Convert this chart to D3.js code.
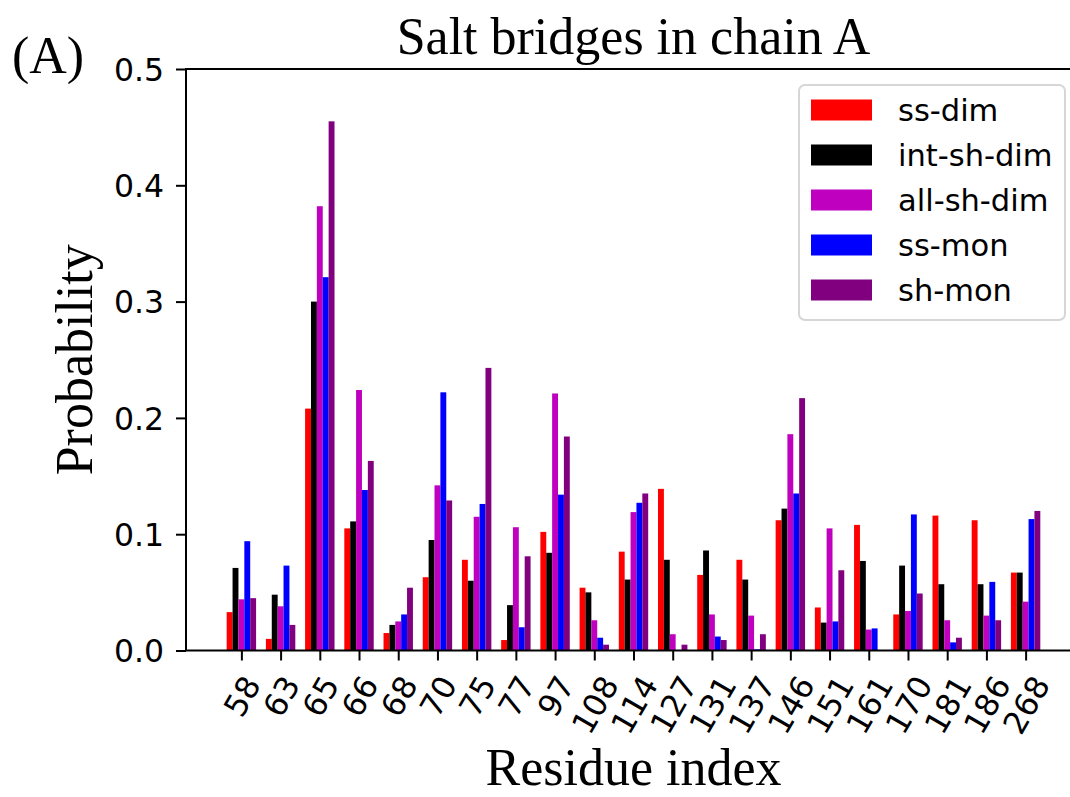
<!DOCTYPE html>
<html>
<head>
<meta charset="utf-8">
<script src="https://cdn.jsdelivr.net/npm/d3@7"></script>
<style>
  html, body { margin: 0; padding: 0; background: #fff; }
  svg { display: block; }
</style>
</head>
<body>
<svg id="chart" width="1070" height="797"></svg>
<script>
// Residue indices along the x axis
const categories = ["58","63","65","66","68","70","75","77","97","108","114","127","131","137","146","151","161","170","181","186","268"];

// Salt-bridge probability per residue for each system
const ssDim    = [0.033,0.010,0.208,0.105,0.015,0.063,0.078,0.009,0.102,0.054,0.085,0.139,0.065,0.078,0.112,0.037,0.108,0.031,0.116,0.112,0.067];
const intShDim = [0.071,0.048,0.300,0.111,0.022,0.095,0.060,0.039,0.084,0.050,0.061,0.078,0.086,0.061,0.122,0.024,0.077,0.073,0.057,0.057,0.067];
const allShDim = [0.044,0.038,0.382,0.224,0.025,0.142,0.115,0.106,0.221,0.026,0.119,0.014,0.031,0.030,0.186,0.105,0.018,0.034,0.026,0.030,0.042];
const ssMon    = [0.094,0.073,0.321,0.138,0.031,0.222,0.126,0.020,0.134,0.011,0.127,0.000,0.012,0.001,0.135,0.025,0.019,0.117,0.007,0.059,0.113];
const shMon    = [0.045,0.022,0.455,0.163,0.054,0.129,0.243,0.081,0.184,0.005,0.135,0.005,0.009,0.014,0.217,0.069,0.000,0.049,0.011,0.026,0.120];

const seriesNames  = ["ss-dim","int-sh-dim","all-sh-dim","ss-mon","sh-mon"];
const seriesValues = [ssDim, intShDim, allShDim, ssMon, shMon];
const seriesColors = ["#ff0000","#000000","#bf00bf","#0000ff","#800080"];

const yTicks = [0, 0.1, 0.2, 0.3, 0.4, 0.5];

// Plot frame
const plot = { left: 186, right: 1081, top: 69, bottom: 650.5 };

const svg = d3.select("#chart");

const x = d3.scalePoint()
  .domain(categories)
  .range([plot.left, plot.right])
  .padding(1.4125);

const step = x.step();

// position of each series inside a residue group (5 bars, 0.15 wide each)
const xSub = d3.scaleBand()
  .domain(seriesNames)
  .range([-0.375 * step, 0.375 * step])
  .padding(0);

const y = d3.scaleLinear()
  .domain([0, 0.5])
  .range([plot.bottom, plot.top]);

const rows = [];
seriesNames.forEach((name, si) => {
  categories.forEach((c, ci) => {
    rows.push({ series: name, cat: c, value: seriesValues[si][ci], color: seriesColors[si] });
  });
});

// Bars
svg.append("g")
  .selectAll("rect")
  .data(rows)
  .join("rect")
  .attr("x", d => x(d.cat) + xSub(d.series))
  .attr("width", xSub.bandwidth())
  .attr("y", d => y(d.value))
  .attr("height", d => y(0) - y(d.value))
  .attr("fill", d => d.color);

// Y axis
const yAxis = svg.append("g")
  .attr("transform", `translate(${plot.left},0)`)
  .call(d3.axisLeft(y).tickValues(yTicks).tickFormat(d3.format(".1f")).tickSize(10).tickPadding(12));
yAxis.select(".domain").remove();
yAxis.selectAll(".tick line").attr("stroke", "#000").attr("stroke-width", 2);
yAxis.selectAll(".tick text")
  .attr("font-family", "'DejaVu Sans', sans-serif")
  .attr("font-size", 31.5)
  .attr("fill", "#000")
  .attr("dy", "0.36em");

// X axis
const xAxis = svg.append("g")
  .attr("transform", `translate(0,${plot.bottom})`)
  .call(d3.axisBottom(x).tickSize(10).tickPadding(0));
xAxis.select(".domain").remove();
xAxis.selectAll(".tick line").attr("stroke", "#000").attr("stroke-width", 2);

const tickFont = 31.5;
const labelTop = 673 - plot.bottom;
const ang = 60 * Math.PI / 180;
xAxis.selectAll(".tick text")
  .attr("font-family", "'DejaVu Sans', sans-serif")
  .attr("font-size", tickFont)
  .attr("fill", "#000")
  .attr("text-anchor", "middle")
  .attr("y", 0)
  .attr("dy", "0.3645em")
  .each(function () {
    const w = this.getComputedTextLength();
    const hv = 0.73 * tickFont;
    const boxH = w * Math.sin(ang) + hv * Math.cos(ang);
    d3.select(this).attr("transform", `translate(0,${labelTop + boxH / 2}) rotate(-60)`);
  });

// Frame (spines)
svg.append("rect")
  .attr("x", plot.left)
  .attr("y", plot.top)
  .attr("width", plot.right - plot.left)
  .attr("height", plot.bottom - plot.top)
  .attr("fill", "none")
  .attr("stroke", "#000")
  .attr("stroke-width", 2);

// Titles and labels
const serif = "'Liberation Serif', 'Times New Roman', serif";
svg.append("text")
  .attr("x", (plot.left + plot.right) / 2)
  .attr("y", 54)
  .attr("text-anchor", "middle")
  .attr("font-family", serif)
  .attr("font-size", 52)
  .text("Salt bridges in chain A");

svg.append("text")
  .attr("x", 12)
  .attr("y", 73)
  .attr("font-family", serif)
  .attr("font-size", 52)
  .text("(A)");

svg.append("text")
  .attr("x", (plot.left + plot.right) / 2)
  .attr("y", 785)
  .attr("text-anchor", "middle")
  .attr("font-family", serif)
  .attr("font-size", 52)
  .text("Residue index");

svg.append("text")
  .attr("transform", `translate(92,${(plot.top + plot.bottom) / 2}) rotate(-90)`)
  .attr("text-anchor", "middle")
  .attr("font-family", serif)
  .attr("font-size", 52)
  .text("Probability");

// Legend
const legend = svg.append("g");
legend.append("rect")
  .attr("x", 799).attr("y", 85)
  .attr("width", 266).attr("height", 235)
  .attr("rx", 6).attr("ry", 6)
  .attr("fill", "#fff").attr("fill-opacity", 0.8)
  .attr("stroke", "#d6d6d6").attr("stroke-width", 2);

const legendRow = legend.selectAll("g.item")
  .data(seriesNames)
  .join("g")
  .attr("class", "item")
  .attr("transform", (d, i) => `translate(0,${110 + i * 45})`);

legendRow.append("rect")
  .attr("x", 811).attr("y", -10.5)
  .attr("width", 61).attr("height", 21)
  .attr("fill", (d, i) => seriesColors[i]);

legendRow.append("text")
  .attr("x", 898).attr("y", 10.5)
  .attr("font-family", "'DejaVu Sans', sans-serif")
  .attr("font-size", 30.5)
  .attr("fill", "#000")
  .text(d => d);
</script>
</body>
</html>
